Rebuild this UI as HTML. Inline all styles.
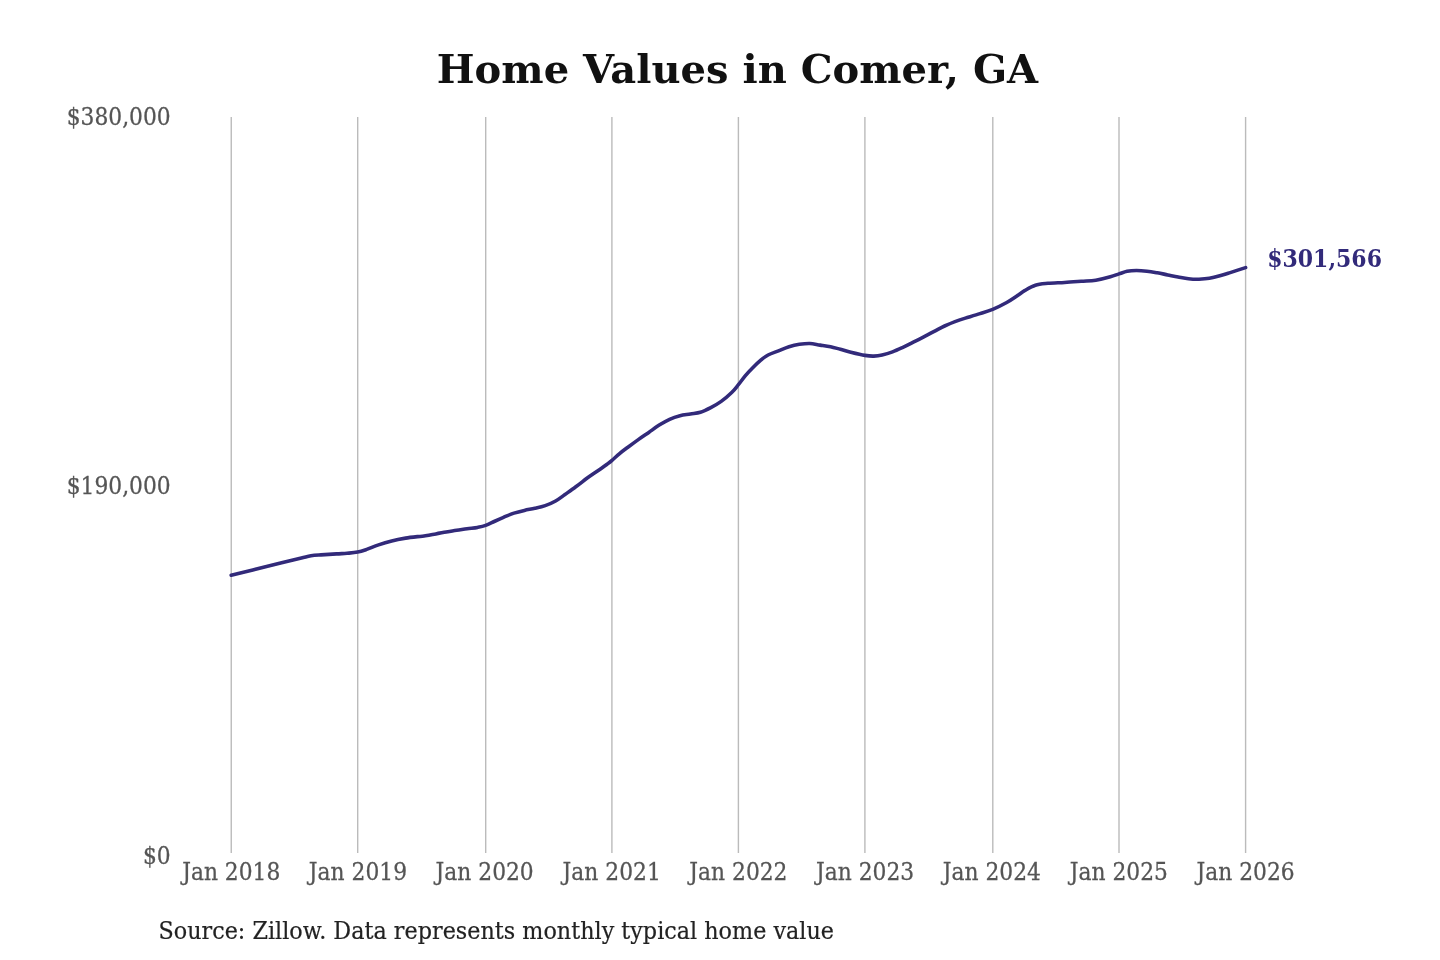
<!DOCTYPE html>
<html lang="en"><head><meta charset="utf-8"><title>Home Values in Comer, GA</title>
<style>
html,body{margin:0;padding:0;background:#fff;}
body{width:1440px;height:960px;overflow:hidden;font-family:"DejaVu Serif","Liberation Serif",serif;}
svg{display:block;}
svg text{font-family:"DejaVu Serif","Liberation Serif",serif;}
.title{font-weight:bold;font-size:40px;fill:#111;text-anchor:middle;}
.yt text{font-size:21.8px;fill:#555555;stroke:#555555;stroke-width:0.25;text-anchor:end;}
.xt text{font-size:21.8px;fill:#555555;stroke:#555555;stroke-width:0.25;text-anchor:middle;}
.src{font-size:22.3px;fill:#222222;stroke:#222222;stroke-width:0.2;}
.lab{font-size:22px;font-weight:bold;fill:#322a7a;}
.grid line{stroke:#bbbbbb;stroke-width:1.4;}
</style></head>
<body>
<svg width="1440" height="960" viewBox="0 0 1440 960">
<rect width="1440" height="960" fill="#ffffff"/>
<text class="title" x="737.5" y="83.3">Home Values in Comer, GA</text>
<g class="grid"><line x1="231.25" y1="117" x2="231.25" y2="853"/><line x1="357.70" y1="117" x2="357.70" y2="853"/><line x1="485.70" y1="117" x2="485.70" y2="853"/><line x1="611.90" y1="117" x2="611.90" y2="853"/><line x1="738.40" y1="117" x2="738.40" y2="853"/><line x1="864.90" y1="117" x2="864.90" y2="853"/><line x1="992.80" y1="117" x2="992.80" y2="853"/><line x1="1119.00" y1="117" x2="1119.00" y2="853"/><line x1="1245.60" y1="117" x2="1245.60" y2="853"/></g>
<g class="yt"><text transform="translate(170.70 124.60) scale(1 1.075)">$380,000</text><text transform="translate(170.70 494.40) scale(1 1.075)">$190,000</text><text transform="translate(170.70 863.50) scale(1 1.075)">$0</text></g>
<g class="xt"><text transform="translate(231.25 879.50) scale(1 1.075)">Jan 2018</text><text transform="translate(357.95 879.50) scale(1 1.075)">Jan 2019</text><text transform="translate(484.65 879.50) scale(1 1.075)">Jan 2020</text><text transform="translate(611.70 879.50) scale(1 1.075)">Jan 2021</text><text transform="translate(738.40 879.50) scale(1 1.075)">Jan 2022</text><text transform="translate(865.10 879.50) scale(1 1.075)">Jan 2023</text><text transform="translate(991.80 879.50) scale(1 1.075)">Jan 2024</text><text transform="translate(1118.85 879.50) scale(1 1.075)">Jan 2025</text><text transform="translate(1245.55 879.50) scale(1 1.075)">Jan 2026</text></g>
<path d="M231.2,575.2 C234.8,574.3 244.6,571.9 252.8,569.9 C261.0,567.9 272.5,565.1 280.6,563.1 C288.7,561.1 296.3,559.2 301.4,558.0 C306.5,556.8 307.7,556.3 311.0,555.8 C314.3,555.3 316.7,555.2 321.0,554.9 C325.3,554.6 332.3,554.2 336.6,553.9 C340.9,553.6 343.5,553.6 347.0,553.3 C350.5,553.0 354.3,552.8 357.6,552.1 C360.9,551.5 363.3,550.6 366.7,549.4 C370.1,548.2 373.6,546.5 377.8,545.1 C382.0,543.7 387.1,542.1 391.7,540.9 C396.3,539.7 400.0,539.0 405.6,538.1 C411.2,537.2 420.4,536.4 425.4,535.7 C430.4,535.0 432.3,534.5 435.8,533.9 C439.3,533.3 442.8,532.6 446.2,532.0 C449.7,531.4 453.2,530.8 456.7,530.3 C460.2,529.8 463.6,529.2 467.1,528.7 C470.6,528.2 474.4,528.0 477.5,527.4 C480.6,526.8 482.8,526.4 485.6,525.4 C488.4,524.4 491.2,522.9 494.2,521.5 C497.2,520.1 500.2,518.7 503.5,517.3 C506.8,515.9 510.5,514.2 514.0,513.1 C517.5,512.0 520.9,511.2 524.4,510.4 C527.9,509.6 531.3,509.1 534.8,508.3 C538.3,507.5 541.7,506.8 545.2,505.6 C548.7,504.4 552.3,502.9 555.6,501.0 C558.9,499.1 561.6,496.9 565.0,494.5 C568.4,492.1 572.3,489.4 575.8,486.8 C579.3,484.2 582.8,481.4 586.2,478.8 C589.7,476.2 593.2,473.9 596.7,471.5 C600.2,469.1 604.6,466.1 607.1,464.2 C609.6,462.3 609.9,462.1 612.0,460.3 C614.1,458.5 617.0,455.8 619.6,453.6 C622.2,451.4 624.8,449.5 627.9,447.2 C631.0,444.9 634.8,442.1 638.3,439.6 C641.8,437.1 645.3,434.8 648.8,432.4 C652.2,430.0 655.7,427.3 659.2,425.1 C662.7,422.9 666.1,420.9 669.6,419.3 C673.1,417.7 676.5,416.6 680.0,415.7 C683.5,414.8 687.0,414.6 690.4,414.0 C693.8,413.4 697.0,413.4 700.4,412.3 C703.8,411.2 707.3,409.4 710.8,407.6 C714.3,405.8 717.8,403.9 721.2,401.4 C724.7,398.9 728.8,395.3 731.7,392.5 C734.6,389.7 736.1,387.5 738.4,384.7 C740.6,381.9 742.9,378.6 745.2,375.8 C747.6,373.0 749.9,370.6 752.5,368.0 C755.1,365.4 758.2,362.4 760.8,360.2 C763.4,358.0 765.1,356.6 768.1,355.0 C771.1,353.4 775.0,352.2 778.5,350.8 C782.0,349.4 785.5,347.8 789.0,346.7 C792.5,345.6 795.9,344.8 799.4,344.3 C802.9,343.8 806.3,343.4 809.8,343.5 C813.3,343.6 816.7,344.6 820.2,345.1 C823.7,345.6 827.2,346.0 830.6,346.7 C834.0,347.4 837.0,348.4 840.4,349.3 C843.8,350.2 846.7,351.3 850.8,352.3 C854.9,353.3 861.1,354.8 864.9,355.4 C868.7,356.0 870.9,356.2 873.8,356.1 C876.6,356.0 879.0,355.7 882.1,355.0 C885.2,354.3 889.0,353.2 892.5,351.9 C896.0,350.6 899.4,349.0 902.9,347.4 C906.4,345.8 909.8,343.9 913.3,342.2 C916.8,340.4 920.3,338.7 923.8,336.9 C927.2,335.1 930.7,333.2 934.2,331.4 C937.7,329.6 941.1,327.6 944.6,326.0 C948.1,324.4 951.5,322.9 955.0,321.6 C958.5,320.3 961.2,319.4 965.4,318.1 C969.6,316.8 975.5,315.1 980.0,313.6 C984.5,312.2 988.2,311.2 992.7,309.4 C997.2,307.5 1002.7,304.7 1006.7,302.5 C1010.7,300.3 1013.9,298.0 1016.9,296.0 C1019.9,294.0 1021.9,292.2 1025.0,290.4 C1028.1,288.6 1031.6,286.4 1035.4,285.2 C1039.2,284.0 1043.0,283.8 1047.9,283.3 C1052.8,282.9 1059.0,282.8 1064.6,282.5 C1070.2,282.2 1076.0,281.7 1081.2,281.3 C1086.5,280.9 1090.9,280.9 1095.8,280.2 C1100.7,279.4 1106.5,277.9 1110.4,276.8 C1114.3,275.8 1116.2,274.8 1119.0,273.9 C1121.8,273.0 1124.2,271.9 1127.1,271.3 C1130.0,270.7 1133.2,270.5 1136.5,270.5 C1139.8,270.5 1143.4,270.8 1146.9,271.2 C1150.4,271.6 1153.8,272.2 1157.3,272.8 C1160.8,273.4 1164.2,274.2 1167.7,274.9 C1171.2,275.6 1174.6,276.4 1178.1,277.0 C1181.6,277.6 1185.0,278.3 1188.5,278.7 C1192.0,279.1 1195.5,279.3 1199.0,279.2 C1202.5,279.1 1205.9,278.9 1209.4,278.3 C1212.9,277.7 1216.3,276.8 1219.8,275.8 C1223.3,274.9 1225.9,274.0 1230.2,272.6 C1234.5,271.2 1243.0,268.4 1245.6,267.6" fill="none" stroke="#322a7a" stroke-width="3.6" stroke-linejoin="round" stroke-linecap="round"/>
<text class="lab" transform="translate(1267.20 267.20) scale(1 1.11)">$301,566</text>
<text class="src" transform="translate(158.50 938.80) scale(1 1.075)">Source: Zillow. Data represents monthly typical home value</text>
</svg>
</body></html>
